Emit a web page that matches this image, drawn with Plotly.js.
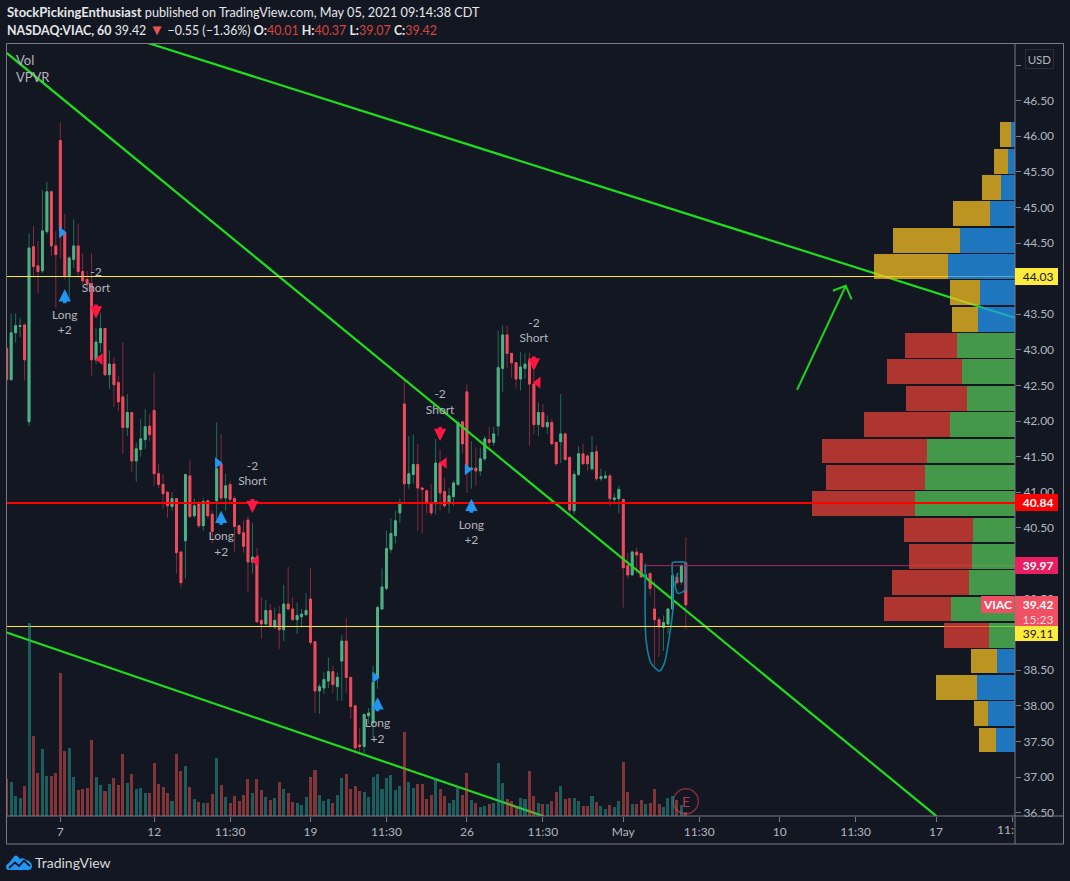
<!DOCTYPE html>
<html><head><meta charset="utf-8">
<script src="https://cdn.plot.ly/plotly-2.35.2.min.js"></script>
<style>html,body{margin:0;padding:0;background:#131722;overflow:hidden}#c{width:1070px;height:881px}</style>
</head><body><div id="c"></div>
<script>
// Hourly candles (7 bars a day)
const opens=[43.02,42.58,43.24,43.33,43.35,41.99,44.45,44.18,44.11,44.66,45.22,44.46,45.94,44.65,44.04,44.27,44.46,44.10,43.99,43.93,42.86,43.10,43.30,42.65,42.80,42.54,42.34,41.91,42.12,41.44,41.60,41.74,41.93,42.15,41.26,41.11,41.00,40.80,40.91,40.16,40.32,41.23,40.67,40.85,40.53,40.88,40.69,40.88,41.40,40.92,41.11,40.91,40.53,40.43,40.61,40.02,40.09,39.20,39.15,39.34,39.11,39.29,39.07,39.43,39.36,39.21,39.25,39.28,39.50,38.90,38.21,38.25,38.35,38.48,38.27,38.63,38.91,38.40,38.00,37.45,37.43,37.86,37.76,38.40,39.36,39.65,40.20,40.39,40.71,42.24,41.12,41.25,41.39,41.06,41.02,40.84,40.84,41.41,41.01,40.84,40.94,41.11,41.99,42.41,41.32,41.34,41.30,41.47,41.74,41.70,41.93,42.74,43.21,42.95,42.82,42.59,42.74,42.85,42.52,41.95,42.12,41.92,41.98,41.70,41.71,41.82,41.49,40.74,41.25,41.54,41.51,41.33,41.57,41.19,41.20,41.23,40.90,40.91,40.90,39.97,39.84,40.16,40.14,39.81,39.86,39.36,39.21,39.10,39.15,39.36,39.81,39.74,40.01];
const closes=[42.58,43.24,43.34,43.34,42.86,44.43,44.17,44.10,44.67,45.22,44.46,44.34,44.67,44.04,44.29,44.46,44.10,43.97,43.93,42.86,43.11,43.30,42.65,42.80,42.51,42.27,41.91,42.12,41.44,41.61,41.75,41.92,41.81,41.26,41.11,40.98,40.81,40.91,40.15,39.73,41.25,40.66,40.81,40.53,40.87,40.67,40.45,41.33,40.92,41.09,40.90,40.52,40.42,40.24,40.02,40.09,39.18,39.15,39.34,39.13,39.20,39.07,39.43,39.36,39.21,39.27,39.29,39.34,38.89,38.21,38.27,38.37,38.48,38.30,38.40,38.91,38.40,37.99,37.41,37.43,37.88,37.90,38.33,39.38,39.67,40.21,40.42,40.60,40.85,41.12,41.26,41.39,41.06,41.04,40.84,40.71,41.41,40.99,40.81,40.95,41.13,41.98,41.68,41.36,41.34,41.30,41.47,41.75,41.70,41.82,42.75,43.21,42.95,42.82,42.59,42.76,42.80,42.52,41.95,42.12,41.92,41.98,41.68,41.40,41.82,41.46,40.75,41.25,41.54,41.40,41.40,41.56,41.19,41.22,41.23,40.91,40.92,41.04,39.94,39.84,40.16,40.12,39.81,39.84,39.65,39.21,39.11,39.17,39.36,39.83,39.73,39.97,39.42];
const highs=[43.09,43.51,43.51,43.45,43.37,44.64,44.74,44.53,45.24,45.36,45.24,44.67,46.20,44.91,44.32,44.83,44.77,44.36,44.11,44.36,43.30,43.52,43.31,42.99,42.89,42.64,43.10,42.38,42.13,41.70,42.03,42.17,42.10,42.68,41.40,41.26,41.02,41.00,40.92,40.18,41.26,41.46,40.91,40.88,40.91,40.90,40.74,41.98,41.82,41.26,41.16,40.95,40.54,40.60,40.67,40.57,40.22,39.53,39.49,39.43,39.38,39.40,39.70,39.95,39.53,39.45,39.36,39.58,39.94,38.91,38.31,38.47,38.68,38.56,38.47,38.99,39.24,38.41,38.02,37.69,37.89,37.97,38.56,39.41,39.93,40.46,40.63,40.74,40.91,42.57,41.79,41.81,41.68,41.08,41.04,41.12,41.75,41.60,41.20,41.06,41.16,42.00,41.99,42.52,41.72,41.63,41.63,41.79,41.92,41.92,43.27,43.34,43.34,42.96,42.83,42.97,42.96,42.96,42.71,42.26,42.24,42.08,42.03,41.71,42.38,41.84,41.50,41.30,41.65,41.68,41.54,41.79,41.65,41.33,41.30,41.26,40.98,41.09,40.91,40.15,40.18,40.22,40.15,40.00,39.87,39.76,39.25,39.27,39.38,39.97,39.83,40.00,40.37];
const lows=[42.29,42.58,43.10,43.18,42.57,41.93,44.04,43.79,44.08,44.63,44.32,43.59,44.28,43.99,43.69,44.15,44.04,43.93,43.83,42.64,42.80,42.96,42.64,42.45,42.20,42.14,41.54,41.79,41.29,41.15,41.50,41.61,41.72,41.09,41.06,40.77,40.64,40.74,39.86,39.66,39.79,40.64,40.64,40.50,40.46,40.63,40.28,40.57,40.88,40.74,40.83,40.17,40.40,40.15,39.60,39.86,39.17,38.94,39.13,39.10,39.08,38.80,38.91,39.34,39.20,39.01,39.11,39.27,38.85,37.90,37.89,38.17,38.25,38.18,38.07,38.07,38.18,37.82,37.33,37.31,37.34,37.75,37.55,38.24,39.35,39.62,40.15,40.28,40.57,40.84,41.05,41.12,40.46,40.42,40.70,40.67,40.69,40.74,40.78,40.71,40.81,41.09,41.54,40.99,41.05,41.09,41.23,41.44,41.63,41.65,41.79,42.41,42.74,42.61,42.47,42.43,42.59,41.65,41.82,41.79,41.91,41.82,41.67,41.37,41.41,41.44,40.67,40.69,41.23,41.39,41.30,41.30,41.16,41.16,41.19,40.81,40.83,40.71,39.38,39.79,39.83,39.86,39.80,39.50,39.55,38.56,38.69,38.77,39.01,39.35,39.70,39.70,39.07];
// Volume, thousands of shares
const volumes=[370,340,200,180,300,1930,800,430,670,400,400,430,1430,650,680,390,260,270,280,760,390,310,250,320,380,310,620,330,420,270,280,230,230,530,320,290,230,150,620,450,500,290,170,140,130,130,220,580,310,190,130,200,150,210,370,230,370,260,190,160,180,340,270,230,140,130,110,190,390,460,210,150,170,130,210,380,420,270,300,250,240,190,390,420,270,380,410,260,300,840,340,280,320,320,170,210,380,270,200,130,160,280,210,430,160,130,90,100,120,130,530,330,170,150,100,180,170,450,200,130,120,120,150,240,300,170,180,180,150,100,100,200,140,100,70,110,90,150,540,240,120,120,160,120,130,270,120,90,180,200,160,110,40];
// Volume profile (visible range)
const vpCenters=[46.02,45.65,45.28,44.91,44.54,44.17,43.80,43.43,43.06,42.69,42.32,41.95,41.58,41.21,40.84,40.47,40.10,39.73,39.36,38.99,38.63,38.26,37.89,37.52];
const vpBuy=[4,7,14,25,55,67,35,37,58,53,48,65,88,90,100,42,43,46,64,26,18,38,27,19];
const vpSell=[11,14,19,37,67,74,30,26,52,75,61,86,105,99,103,69,63,77,67,45,26,41,14,17];
const vpValueArea=[0,0,0,0,0,0,0,0,1,1,1,1,1,1,1,1,1,1,1,1,0,0,0,0];
// Axes
const xTickVals=[12,33,50,68,85,103,120,138,155,173,190,208,225];
const xTickText=['7','12','11:30','19','11:30','26','11:30','May','11:30','10','11:30','17',' '];
const yTickVals=[36.5,37,37.5,38,38.5,39,39.5,40,40.5,41,41.5,42,42.5,43,43.5,44,44.5,45,45.5,46,46.5,47];
const yTickText=['36.50','37.00','37.50','38.00','38.50',' ','39.50',' ','40.50','41.00','41.50','42.00','42.50','43.00','43.50',' ','44.50','45.00','45.50','46.00','46.50',' '];
// Drawings
const trendUpperX=[31.6,225.7], trendUpperY=[47.31,43.45];
const trendMidX=[0,208.1], trendMidY=[47.17,36.45];
const trendLowX=[0,120.2], trendLowY=[39.03,36.45];
const arrowX=[176.9,187.8,184.9,187.8,189.1], arrowY=[42.44,43.90,43.83,43.90,43.71];
const curveX=[142.9,142.9,143.1,144.2,146.1,147.2,148.3,149.1,149.0,149.0,149.8,152.0,152.0,151.9,150.2,149.6,150.2];
const curveY=[39.99,39.25,38.92,38.60,38.49,38.60,38.97,39.35,39.84,40.01,40.02,40.01,39.84,39.63,39.58,39.70,39.87];
const levelYellow=[44.03,39.115], levelRed=40.85, levelPink=39.97, lastPrice=39.42;
// Trades
const longX=[13,48,104,83], longTip=[43.85,40.74,40.91,38.12], longLabel=[43.37,40.26,40.42,37.63];
const shortX=[20,55,97,118], shortTip=[43.44,40.71,41.72,42.71], shortLabel=[43.97,41.25,42.25,43.26];
const entryX=[12.3,47.2,103.1,82.4], entryY=[44.65,41.41,41.32,38.40];
const exitX=[20.9,55.8,97.9,118.9], exitY=[42.87,40.04,41.41,42.54];

const FONT='Lato, sans-serif', GRAY='#b2b5be', LINE='#787b86';
const xs=opens.map((_,i)=>i);
const fx=px=>(px-7)/1008, fy=py=>(816-py)/773;
const up=(i)=>closes[i]>=opens[i];
const candleBase={type:'candlestick',x:xs,open:opens,close:closes,hoverinfo:'skip',showlegend:false};
const traces=[
 Object.assign({},candleBase,{high:highs,low:lows,
   increasing:{line:{color:'#1f6e58',width:1},fillcolor:'rgba(0,0,0,0)'},
   decreasing:{line:{color:'#84293c',width:1},fillcolor:'rgba(0,0,0,0)'}}),
 Object.assign({},candleBase,{high:opens.map((o,i)=>Math.max(o,closes[i])),low:opens.map((o,i)=>Math.min(o,closes[i])),
   increasing:{line:{color:'#4fb286',width:1},fillcolor:'#4fb286'},
   decreasing:{line:{color:'#ee4d5f',width:1},fillcolor:'#ee4d5f'}}),
 {type:'scatter',mode:'lines',x:trendUpperX,y:trendUpperY,line:{color:'#1fdc1f',width:2.2},hoverinfo:'skip'},
 {type:'scatter',mode:'lines',x:trendMidX,y:trendMidY,line:{color:'#1fdc1f',width:2.2},hoverinfo:'skip'},
 {type:'scatter',mode:'lines',x:trendLowX,y:trendLowY,line:{color:'#1fdc1f',width:2.2},hoverinfo:'skip'},
 {type:'scatter',mode:'lines',x:arrowX,y:arrowY,line:{color:'#1fd01f',width:2},hoverinfo:'skip'},
 {type:'scatter',mode:'lines',x:curveX,y:curveY,line:{color:'#12809f',width:1.6,shape:'spline',smoothing:0.7},hoverinfo:'skip'},
 {type:'scatter',mode:'lines',x:[0.07,225.67],y:[levelYellow[0],levelYellow[0]],line:{color:'#ffeb3b',width:1},hoverinfo:'skip'},
 {type:'scatter',mode:'lines',x:[0.07,225.67],y:[levelYellow[1],levelYellow[1]],line:{color:'#ffeb3b',width:1},hoverinfo:'skip'},
 {type:'scatter',mode:'lines',x:[143,225.67],y:[levelPink,levelPink],line:{color:'#a5265a',width:1},hoverinfo:'skip'},
 {type:'scatter',mode:'markers',x:entryX,y:entryY,marker:{symbol:'triangle-right',size:10,color:'#2196f3'},hoverinfo:'skip'},
 {type:'scatter',mode:'markers',x:exitX,y:exitY,marker:{symbol:'triangle-left',size:10,color:'#ff1744'},hoverinfo:'skip'},
 {type:'scatter',mode:'text',x:longX,y:longLabel,text:longX.map(()=>'Long<br>+2'),textposition:'middle center',textfont:{family:FONT,size:12,color:GRAY},hoverinfo:'skip'},
 {type:'scatter',mode:'text',x:shortX,y:shortLabel,text:shortX.map(()=>'-2<br>Short'),textposition:'middle center',textfont:{family:FONT,size:12,color:GRAY},hoverinfo:'skip'},
 {type:'scatter',mode:'markers',x:[152],y:[36.66],marker:{symbol:'circle-open',size:25,color:'#7d2e3a',line:{width:1.5,color:'#7d2e3a'}},hoverinfo:'skip'},
 {type:'bar',x:xs,y:volumes,xaxis:'x',yaxis:'y2',width:0.68,marker:{color:xs.map(i=>up(i)?'rgba(38,166,154,0.5)':'rgba(239,83,80,0.5)'),line:{width:0}},hoverinfo:'skip'},
 {type:'bar',orientation:'h',x:vpBuy,y:vpCenters,xaxis:'x2',yaxis:'y',width:0.35,opacity:0.75,marker:{color:vpValueArea.map(v=>v?'#54c557':'#2196f3'),line:{width:0}},hoverinfo:'skip'},
 {type:'bar',orientation:'h',x:vpSell,y:vpCenters,xaxis:'x2',yaxis:'y',width:0.35,opacity:0.75,marker:{color:vpValueArea.map(v=>v?'#e44035':'#f4be21'),line:{width:0}},hoverinfo:'skip'}
];
const tag=(y,text,bg,color,extra)=>Object.assign({xref:'paper',yref:'y',x:1,y:y,xanchor:'left',yanchor:'middle',showarrow:false,
  text:'\u00a0'+text,width:43,height:17,bgcolor:bg,borderpad:0,borderwidth:0,font:{family:FONT,size:12,color:color}},extra||{});
const pane=(px,py,text,size,color,extra)=>Object.assign({xref:'paper',yref:'paper',x:fx(px),y:fy(py),xanchor:'left',yanchor:'middle',showarrow:false,
  text:text,borderpad:0,font:{family:FONT,size:size,color:color}},extra||{});
const redv=t=>'<span style="color:#d8443f">'+t+'</span>';
const annotations=[
 pane(6,12,'<b>StockPickingEnthusiast</b> <span style="font-size:12.7px">published on TradingView.com, May 05, 2021 09:14:38 CDT</span>',13,'#e6e7ea'),
 pane(6,29,'<b>NASDAQ:VIAC, 60</b> 39.42 <span style="color:#ef5350;font-size:15px">\u25bc</span> \u22120.55 (\u22121.36%) <b>O:</b>'+redv('40.01')+' <b>H:</b>'+redv('40.37')+' <b>L:</b>'+redv('39.07')+' <b>C:</b>'+redv('39.42'),12.4,'#e6e7ea'),
 pane(15,60,'Vol',13,GRAY),
 pane(15,77,'VPVR',13,GRAY),
 pane(1025,59,'USD',11.5,GRAY,{width:27,height:18,bordercolor:'#2a2e39',borderwidth:1,align:'center'}),
 pane(34,863,'TradingView',14,'#d7d8db'),
 {xref:'x',yref:'y',x:152,y:36.66,text:'E',showarrow:false,font:{family:FONT,size:14,color:'#b2384a'}},
 {xref:'paper',yref:'paper',x:1,y:fy(829),xanchor:'right',yanchor:'middle',showarrow:false,borderpad:0,text:'11:',font:{family:FONT,size:12,color:GRAY}},
 tag(levelYellow[0],'44.03','#ffeb3b','#131722'),
 tag(levelRed,'<b>40.84</b>','#ff0000','#ffffff'),
 tag(levelPink,'<b>39.97</b>','#e91e63','#ffffff'),
 tag(lastPrice,'','#ef5064','#ffffff',{yshift:-15,height:13,text:'\u00a015:23',font:{family:FONT,size:12,color:'#ffd5da'}}),
 tag(lastPrice,'<b>39.42</b>','#ef5064','#ffffff'),
 tag(levelYellow[1],'39.11','#ffeb3b','#131722',{yshift:-7,height:15}),
 tag(lastPrice,'<b>VIAC</b>','#ef5064','#ffffff',{xanchor:'right',xshift:-1,width:33,text:'<b>VIAC</b>'})
];
const arrowText={text:' ',font:{size:1},borderpad:0,showarrow:true,arrowhead:2,arrowsize:0.7,arrowwidth:3.5,xref:'x',yref:'y',ax:0};
longX.forEach((x,i)=>annotations.push(Object.assign({},arrowText,{x:x,y:longTip[i],ay:15,arrowcolor:'#2196f3'})));
shortX.forEach((x,i)=>annotations.push(Object.assign({},arrowText,{x:x,y:shortTip[i],ay:-15,arrowcolor:'#ff1744'})));

const logo='<svg xmlns="http://www.w3.org/2000/svg" viewBox="0 0 26 15"><path fill="#2196f3" d="M0 12.5C0 10 1.5 8.5 3 8L8 1.5C9 .4 10.5.2 11.5 1.2L14 4C16 2.6 18.5 3 20 5C23 5 26 8 26 11C26 13.5 24.5 15 22 15L3 15C1.2 15 0 14 0 12.5Z"/><path fill="none" stroke="#131722" stroke-width="1.8" d="M3 13L9 7.5L13 11L18 5.5L24 11"/></svg>';
const outerR=fx(1063.5), bottomP=fy(844);
const layout={width:1070,height:881,margin:{l:7,r:55,t:43,b:65,pad:0},paper_bgcolor:'#131722',plot_bgcolor:'#131722',showlegend:false,
 barmode:'stack',boxgap:0.4,bargap:0,hovermode:false,
 xaxis:{type:'linear',range:[0.07,225.67],tickmode:'array',tickvals:xTickVals,ticktext:xTickText,ticks:'outside',ticklen:5,tickwidth:1,tickcolor:LINE,
   tickfont:{family:FONT,size:12,color:GRAY},showgrid:false,zeroline:false,showline:false,rangeslider:{visible:false},fixedrange:true},
 xaxis2:{overlaying:'x',range:[1008,0],visible:false,fixedrange:true},
 yaxis:{side:'right',range:[36.453,47.31],tickmode:'array',tickvals:yTickVals,ticktext:yTickText,ticks:'outside',ticklen:5,tickwidth:1,tickcolor:LINE,
   tickfont:{family:FONT,size:12,color:GRAY},showgrid:false,zeroline:false,showline:false,fixedrange:true},
 yaxis2:{overlaying:'y',range:[0,7730],visible:false,fixedrange:true},
 shapes:[
  {type:'rect',xref:'paper',yref:'paper',x0:fx(6.5),x1:outerR,y0:bottomP,y1:fy(43.5),line:{color:LINE,width:1}},
  {type:'line',xref:'paper',yref:'paper',x0:1,x1:1,y0:bottomP,y1:fy(43.5),line:{color:LINE,width:1}},
  {type:'line',xref:'paper',yref:'paper',x0:0,x1:outerR,y0:0,y1:0,line:{color:LINE,width:1}},
  {type:'line',xref:'paper',yref:'y',x0:0,x1:1,y0:levelRed,y1:levelRed,line:{color:'#ff0000',width:2},layer:'above'}
 ],
 images:[{source:'data:image/svg+xml;utf8,'+encodeURIComponent(logo),xref:'paper',yref:'paper',x:fx(6),y:fy(855),sizex:26/1008,sizey:15/773,xanchor:'left',yanchor:'top',sizing:'stretch',layer:'above'}],
 annotations:annotations,
 font:{family:FONT,color:GRAY}
};
Plotly.newPlot('c',traces,layout,{displayModeBar:false,staticPlot:true});
</script></body></html>
